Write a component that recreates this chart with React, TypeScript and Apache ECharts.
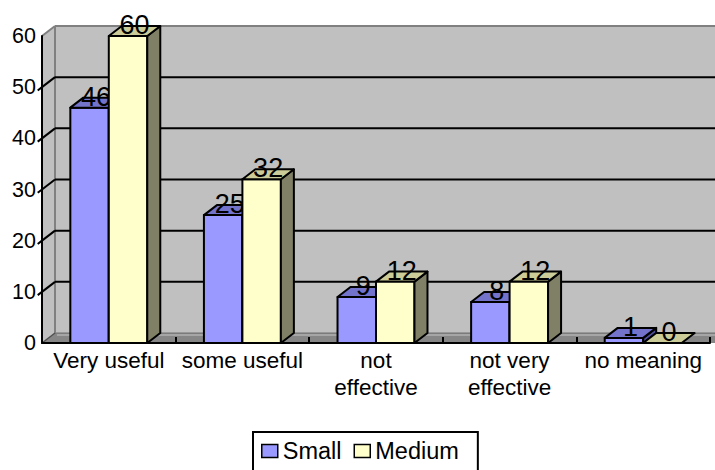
import React, { useEffect, useRef } from 'react';
import * as echarts from 'echarts';

// Survey answers per category, for the two groups
const categories = ['Very useful', 'some useful', 'not\neffective', 'not very\neffective', 'no meaning'];
const smallValues = [46, 25, 9, 8, 1];
const mediumValues = [60, 32, 12, 12, 0];
const seriesNames = ['Small', 'Medium'];
const yTickValues = [0, 10, 20, 30, 40, 50, 60];

// Pseudo-3D depth offset (pixels) and bar width as a share of the category band
const DX = 13;
const DY = -10;
const BAR_RATIO = 0.288;
const FONT = '"Liberation Sans", Arial, Helvetica, sans-serif';

const SMALL_COLORS = { front: '#9999FF', top: '#7373CC', side: '#4D4D99' };
const MEDIUM_COLORS = { front: '#FFFFCC', top: '#CCCC99', side: '#808066' };

function barRenderer(slot: number, colors: { front: string; top: string; side: string }) {
  return (params: any, api: any) => {
    const cat = api.value(0);
    const v = api.value(1);
    const base = api.coord([cat, 0]);
    const top = api.coord([cat, v]);
    const band = api.size([1, 0])[0];
    const w = band * BAR_RATIO;
    const x0 = slot === 0 ? base[0] - w : base[0];
    const x1 = x0 + w;
    const yb = base[1];
    const yt = top[1];
    const edge = { stroke: '#000', lineWidth: 2, lineJoin: 'round' };
    const children: any[] = [];
    if (yb - yt > 0.5) {
      children.push({
        type: 'rect',
        shape: { x: x0, y: yt, width: w, height: yb - yt },
        style: { fill: colors.front, ...edge },
      });
      children.push({
        type: 'polygon',
        shape: { points: [[x1, yt], [x1 + DX, yt + DY], [x1 + DX, yb + DY], [x1, yb]] },
        style: { fill: colors.side, ...edge },
      });
    }
    children.push({
      type: 'polygon',
      shape: { points: [[x0, yt], [x1, yt], [x1 + DX, yt + DY], [x0 + DX, yt + DY]] },
      style: { fill: colors.top, ...edge },
    });
    children.push({
      type: 'text',
      x: x0 + w / 2 + DX / 2,
      y: yt - 11,
      style: {
        text: String(v),
        fill: '#000',
        font: `27px ${FONT}`,
        align: 'center',
        verticalAlign: 'middle',
      },
    });
    return { type: 'group', children };
  };
}

// Walls, floor and gridlines of the 3D box
function frameRenderer(params: any, api: any) {
  const cs = params.coordSys;
  const left = cs.x;
  const right = cs.x + cs.width;
  const bottom = api.coord([0, 0])[1];
  const maxTick = yTickValues[yTickValues.length - 1];
  const topY = api.coord([0, maxTick])[1];
  const children: any[] = [];
  // back wall
  children.push({
    type: 'rect',
    shape: { x: left + DX, y: topY + DY, width: right - left + 20, height: bottom - topY },
    style: { fill: '#C0C0C0', stroke: null },
  });
  // side wall
  children.push({
    type: 'polygon',
    shape: { points: [[left, topY], [left + DX, topY + DY], [left + DX, bottom + DY], [left, bottom]] },
    style: { fill: '#C0C0C0', stroke: null },
  });
  // floor
  children.push({
    type: 'polygon',
    shape: { points: [[left, bottom], [left + DX, bottom + DY], [right + DX + 20, bottom + DY], [right + 20, bottom]] },
    style: { fill: '#868686', stroke: null },
  });
  children.push({
    type: 'line',
    shape: { x1: left + DX + 2, y1: bottom + DY + 2, x2: right + DX + 20, y2: bottom + DY + 2 },
    style: { stroke: '#A6A6A6', lineWidth: 2 },
  });
  children.push({
    type: 'line',
    shape: { x1: left + DX, y1: bottom + DY, x2: right + DX + 20, y2: bottom + DY },
    style: { stroke: '#707070', lineWidth: 1 },
  });
  // back wall corner edge
  children.push({
    type: 'line',
    shape: { x1: left + DX, y1: topY + DY, x2: left + DX, y2: bottom + DY },
    style: { stroke: '#808080', lineWidth: 2 },
  });
  children.push({
    type: 'line',
    shape: { x1: left, y1: bottom, x2: left + DX, y2: bottom + DY },
    style: { stroke: '#505050', lineWidth: 1.5 },
  });
  yTickValues.forEach((t) => {
    const y = api.coord([0, t])[1];
    if (t === 0) return;
    const isTop = t === maxTick;
    children.push({
      type: 'line',
      shape: { x1: left + DX, y1: y + DY, x2: right + DX + 20, y2: y + DY },
      style: { stroke: isTop ? '#808080' : '#000', lineWidth: 2 },
    });
    children.push({
      type: 'line',
      shape: { x1: left, y1: y, x2: left + DX, y2: y + DY },
      style: { stroke: isTop ? '#808080' : '#000', lineWidth: 2 },
    });
    if (!isTop) {
      // slanted axis tick
      children.push({
        type: 'line',
        shape: { x1: left, y1: y, x2: left - DX * 0.33, y2: y - DY * 0.33 },
        style: { stroke: '#000', lineWidth: 2 },
      });
    }
  });
  return { type: 'group', children };
}

export default function App() {
  const ref = useRef<HTMLDivElement>(null);

  useEffect(() => {
    if (!ref.current) return;
    const chart = echarts.init(ref.current, null, { renderer: 'svg' });
    chart.setOption({
      animation: false,
      backgroundColor: '#fff',
      grid: { left: 42, right: 5, top: 36, bottom: 127, containLabel: false },
      xAxis: {
        type: 'category',
        data: categories,
        boundaryGap: true,
        z: 5,
        axisLine: { show: true, lineStyle: { color: '#000', width: 2 } },
        axisTick: { show: true, inside: true, length: 6, interval: 0, lineStyle: { color: '#000', width: 2 } },
        axisLabel: {
          interval: 0,
          margin: 4,
          color: '#000',
          fontSize: 22.5,
          lineHeight: 27,
          fontFamily: FONT,
        },
        splitLine: { show: false },
      },
      yAxis: {
        type: 'value',
        min: 0,
        max: 60,
        interval: 10,
        z: 5,
        axisLine: { show: true, lineStyle: { color: '#000', width: 2 } },
        axisTick: { show: false },
        axisLabel: { margin: 6, color: '#000', fontSize: 21.5, fontFamily: FONT },
        splitLine: { show: false },
      },
      legend: {
        data: seriesNames,
        left: 253,
        top: 432,
        icon: 'rect',
        itemWidth: 16,
        itemHeight: 13,
        itemGap: 12,
        padding: [7, 19, 12, 8],
        borderColor: '#000',
        borderWidth: 2,
        itemStyle: { borderColor: '#000', borderWidth: 1.5 },
        textStyle: { color: '#000', fontSize: 23.5, fontFamily: FONT },
      },
      series: [
        {
          type: 'custom',
          name: 'frame',
          silent: true,
          z: 1,
          data: [[0, 0]],
          encode: { x: 0, y: 1 },
          renderItem: frameRenderer,
        },
        {
          type: 'custom',
          name: seriesNames[0],
          z: 2,
          itemStyle: { color: SMALL_COLORS.front },
          data: smallValues.map((v, i) => [i, v]),
          encode: { x: 0, y: 1 },
          renderItem: barRenderer(0, SMALL_COLORS),
        },
        {
          type: 'custom',
          name: seriesNames[1],
          z: 2,
          itemStyle: { color: MEDIUM_COLORS.front },
          data: mediumValues.map((v, i) => [i, v]),
          encode: { x: 0, y: 1 },
          renderItem: barRenderer(1, MEDIUM_COLORS),
        },
      ],
    });
    return () => chart.dispose();
  }, []);

  return (
    <div
      ref={ref}
      style={{ position: 'fixed', left: 0, top: 0, width: 715, height: 470, background: '#fff' }}
    />
  );
}
